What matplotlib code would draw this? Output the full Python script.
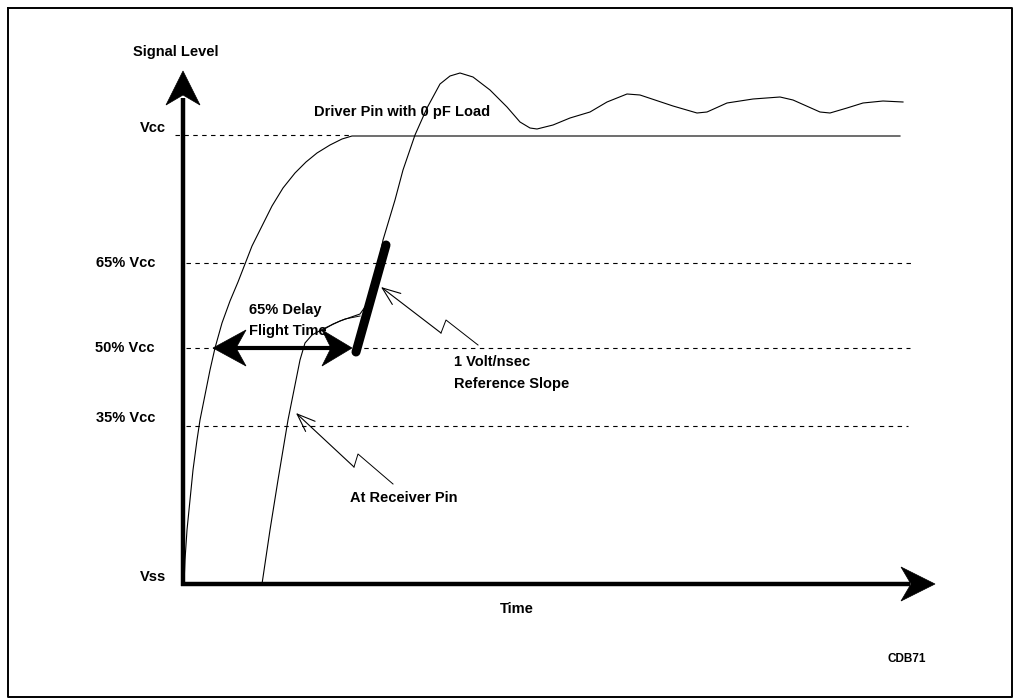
import numpy as np
import matplotlib.pyplot as plt
from matplotlib.patches import Polygon

# everything below in picture units (x right, y down)
level_names = ["Vcc", "65% Vcc", "50% Vcc", "35% Vcc", "Vss"]
level_y = [135, 263, 348, 426, 584]
label_y = [128, 263, 348, 418, 577]
label_right = [166, 155, 155, 155, 166]

# driver pin: RC-ish rise up to Vcc, then flat
driver_x = [184, 185, 187, 190, 193, 197, 200, 205, 210, 215, 222, 230, 238, 245,
            252, 262, 272, 283, 295, 306, 317, 330, 342, 352, 900]
driver_y = [584, 560, 530, 500, 470, 440, 420, 395, 370, 348, 323, 301, 282, 264,
            246, 226, 206, 188, 173, 162, 153, 145, 139, 136, 136]

# receiver pin: late rise, overshoot, ringing
recv_x = [262, 270, 278, 288, 295, 300, 305, 312, 323, 340, 360, 370, 376, 380,
          383, 389, 395, 403, 415, 427, 440, 450, 460, 473, 490, 507, 520, 530,
          537, 553, 570, 590, 607, 627, 640, 673, 697, 707, 727, 753, 780, 793,
          820, 830, 847, 863, 883, 903]
recv_y = [584, 530, 480, 420, 385, 360, 343, 335, 329, 321, 314, 300, 280, 255,
          240, 220, 200, 170, 135, 108, 84, 76, 73, 77, 90, 107, 122, 128,
          129, 125, 118, 112, 102, 94, 95, 106, 113, 112, 103, 99, 97, 100,
          112, 113, 108, 103, 101, 102]

slope_x = [356, 386]
slope_y = [352, 245]

flight_x = [213, 352]  # 50% crossings measured by the double arrow

fig = plt.figure(figsize=(10.2, 6.98), dpi=100)
ax = fig.add_axes([0, 0, 1, 1])
ax.set_xlim(0, 1020)
ax.set_ylim(698, 0)
ax.axis("off")

fnt = dict(family=["Liberation Sans", "DejaVu Sans"],
           fontweight="bold", fontsize=10.5, color="black")


def head(tip, direction, length=34, half=17, notch=10):
    d = np.array(direction, float)
    d /= np.hypot(*d)
    n = np.array([-d[1], d[0]])
    t = np.array(tip, float)
    base = t - d * length
    pts = [t, base + n * half, t - d * (length - notch), base - n * half]
    ax.add_patch(Polygon(pts, closed=True, fc="black", ec="black", lw=0.5, zorder=5))


# frame
ax.plot([8, 1012, 1012, 8, 8], [8, 8, 697, 697, 8], color="black", lw=1.4)

# level lines
ax.plot([175, 352], [level_y[0]] * 2, color="black", lw=0.8, dashes=(4, 4))
for yy, xe in zip(level_y[1:4], [913, 910, 908]):
    ax.plot([186, xe], [yy, yy], color="black", lw=0.8, dashes=(4, 4))

# axes with arrowheads
ax.plot([183, 183], [586, 98], color="black", lw=3.2, solid_capstyle="butt")
head((183, 71), (0, -1))
ax.plot([181, 910], [584, 584], color="black", lw=3.2, solid_capstyle="butt")
head((935, 584), (1, 0))

# waveforms
ax.plot(driver_x, driver_y, color="black", lw=0.8)
ax.plot(recv_x, recv_y, color="black", lw=0.8)

# 1 V/ns reference slope
ax.plot(slope_x, slope_y, color="black", lw=6.5, solid_capstyle="round", zorder=4)

# flight time double arrow
ax.plot([flight_x[0] + 20, flight_x[1] - 20], [level_y[2]] * 2, color="black", lw=3,
        solid_capstyle="butt")
head((flight_x[0], level_y[2]), (-1, 0), length=33, half=18, notch=10)
head((flight_x[1], level_y[2]), (1, 0), length=30, half=18, notch=9)

# leader from flight time label
ax.plot([323, 333, 345, 360], [330, 324, 319, 316], color="black", lw=0.7)

# zigzag leaders
for tip, a, b, tail in [((381, 287), (441, 333), (446, 320), (478, 345)),
                        ((296, 413), (354, 467), (358, 454), (393, 484))]:
    ax.plot([a[0], b[0], tail[0]], [a[1], b[1], tail[1]], color="black", lw=0.7)
    ax.annotate("", xy=tip, xytext=a,
                arrowprops=dict(arrowstyle="->,head_length=1.3,head_width=0.5",
                                lw=0.8, color="black", shrinkA=0, shrinkB=0))

# texts
for name, yy, xr in zip(level_names, label_y, label_right):
    ax.text(xr, yy, name, ha="right", va="center", **fnt)
ax.text(176, 52, "Signal Level", ha="center", va="center", **fnt)
ax.text(517, 609, "Time", ha="center", va="center", **fnt)
ax.text(314, 112, "Driver Pin with 0 pF Load", ha="left", va="center", **fnt)
ax.text(249, 310, "65% Delay", ha="left", va="center", **fnt)
ax.text(249, 331, "Flight Time", ha="left", va="center", **fnt)
ax.text(454, 362, "1 Volt/nsec", ha="left", va="center", **fnt)
ax.text(454, 384, "Reference Slope", ha="left", va="center", **fnt)
ax.text(350, 498, "At Receiver Pin", ha="left", va="center", **fnt)
ax.text(907, 659, "CDB71", ha="center", va="center", **{**fnt, "fontsize": 8.5})

fig.savefig("out.png", dpi=100)
